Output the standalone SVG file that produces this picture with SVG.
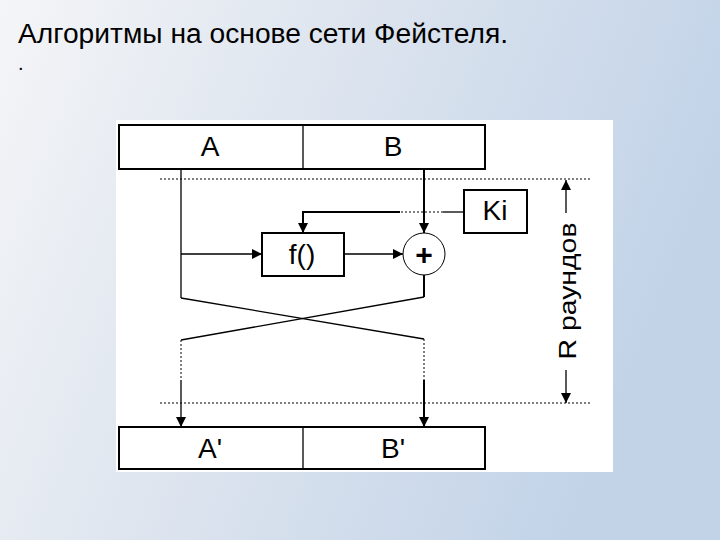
<svg xmlns="http://www.w3.org/2000/svg" width="720" height="540" viewBox="0 0 720 540">
<defs>
<linearGradient id="bg" x1="0" y1="0" x2="1" y2="0.3">
<stop offset="0" stop-color="#f4f5f7"/>
<stop offset="0.5" stop-color="#dbe3ee"/>
<stop offset="1" stop-color="#c2d3e8"/>
</linearGradient>
<marker id="ah" viewBox="0 0 10 10" refX="10" refY="5" markerWidth="11" markerHeight="10" markerUnits="userSpaceOnUse" orient="auto">
<path d="M0,0 L10,5 L0,10 z" fill="#000"/>
</marker>
<style>
.box{fill:#fff;stroke:#000;stroke-width:2}
.ln{fill:none;stroke:#000;stroke-width:1.3}
.lnb{fill:none;stroke:#000;stroke-width:2}
.dot{fill:none;stroke:#000;stroke-width:1;stroke-dasharray:2 2}
.lbl{font-family:"Liberation Sans",Arial,sans-serif;fill:#000;text-anchor:middle}
</style>
</defs>
<rect width="720" height="540" fill="url(#bg)"/>
<text x="18" y="43" font-family="Liberation Sans, Arial, sans-serif" font-size="27" fill="#000" textLength="490" lengthAdjust="spacingAndGlyphs">Алгоритмы на основе сети Фейстеля.</text>
<text x="18" y="70" font-family="Liberation Sans, Arial, sans-serif" font-size="20" fill="#000">.</text>
<rect x="116" y="120" width="497" height="352" fill="#fff"/>

<g id="top">
<rect class="box" x="119" y="125" width="366" height="44"/>
<line x1="303" y1="125" x2="303" y2="169" stroke="#000" stroke-width="1.3"/>
<text class="lbl" x="210" y="156" font-size="28">A</text>
<text class="lbl" x="393" y="156" font-size="28">B</text>
</g>
<g id="ki">
<rect class="box" x="464" y="190" width="63" height="43" stroke-width="1.5"/>
<text class="lbl" x="495" y="220" font-size="28">Ki</text>
</g>
<g id="f">
<rect class="box" x="262" y="233" width="82" height="43" stroke-width="1.5"/>
<text class="lbl" x="302" y="264" font-size="28">f()</text>
</g>
<g id="xor">
<circle cx="424" cy="254" r="21" fill="#fff" stroke="#000" stroke-width="1"/>
<text class="lbl" x="424" y="265" font-size="30" font-weight="bold">+</text>
</g>
<g id="bottom">
<rect class="box" x="119" y="427" width="366" height="42"/>
<line x1="303" y1="427" x2="303" y2="469" stroke="#000" stroke-width="1.3"/>
<text class="lbl" x="210" y="458" font-size="28">A'</text>
<text class="lbl" x="393" y="458" font-size="28">B'</text>
</g>
<g id="rounds">
<text class="lbl" x="0" y="0" font-size="24" transform="translate(576,291) rotate(-90)" textLength="137" lengthAdjust="spacingAndGlyphs">R раундов</text>
</g>

<g id="connectors">
<line class="dot" x1="160" y1="179" x2="590" y2="179"/>
<line class="dot" x1="160" y1="403" x2="590" y2="403"/>
<line class="ln" x1="181" y1="169" x2="181" y2="298"/>
<line class="lnb" x1="424" y1="169" x2="424" y2="233" marker-end="url(#ah)"/>
<polyline class="ln" points="464,212 443,212"/>
<line class="dot" x1="443" y1="212" x2="400" y2="212"/>
<polyline class="lnb" points="400,212 303,212 303,233" marker-end="url(#ah)"/>
<line class="ln" x1="181" y1="254" x2="262" y2="254" marker-end="url(#ah)"/>
<line class="ln" x1="344" y1="254" x2="403" y2="254" marker-end="url(#ah)"/>
<line class="lnb" x1="424" y1="275" x2="424" y2="297"/>
<line class="ln" x1="181" y1="298" x2="424" y2="339"/>
<line class="ln" x1="424" y1="297" x2="181" y2="340"/>
<line class="dot" x1="181" y1="340" x2="181" y2="380"/>
<line class="dot" x1="424" y1="339" x2="424" y2="380" stroke-width="2"/>
<line class="ln" x1="181" y1="380" x2="181" y2="427" marker-end="url(#ah)"/>
<line class="lnb" x1="424" y1="380" x2="424" y2="427" marker-end="url(#ah)"/>
<line class="ln" x1="566" y1="213" x2="566" y2="180" marker-end="url(#ah)"/>
<line class="ln" x1="566" y1="370" x2="566" y2="403" marker-end="url(#ah)"/>
</g>
</svg>
